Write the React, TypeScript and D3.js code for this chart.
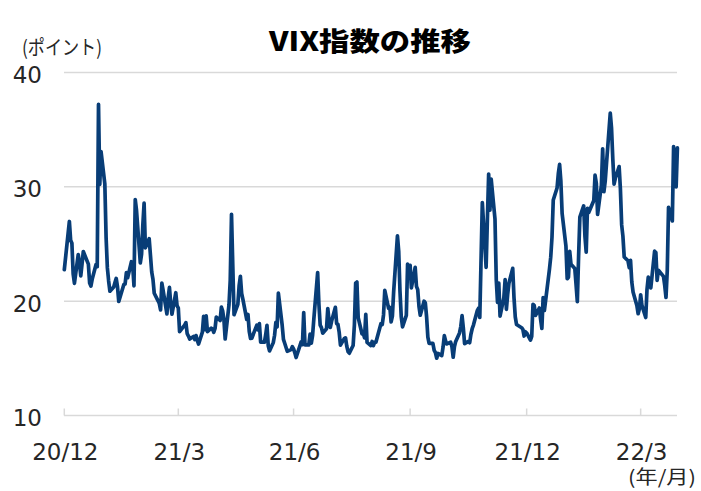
import React from "react";
import * as d3 from "d3";

const title = "VIX指数の推移";
const yUnit = "(ポイント)";
const xUnit = "(年/月)";

const months = [
  "2020-12", "2021-01", "2021-02", "2021-03", "2021-04", "2021-05", "2021-06", "2021-07",
  "2021-08", "2021-09", "2021-10", "2021-11", "2021-12", "2022-01", "2022-02", "2022-03", "2022-04",
];

const tradeDays: number[][] = [
  [31],
  [4, 5, 6, 7, 8, 11, 12, 13, 14, 15, 19, 20, 21, 22, 25, 26, 27, 28, 29],
  [1, 2, 3, 4, 5, 8, 9, 10, 11, 12, 16, 17, 18, 19, 22, 23, 24, 25, 26],
  [1, 2, 3, 4, 5, 8, 9, 10, 11, 12, 15, 16, 17, 18, 19, 22, 23, 24, 25, 26, 29, 30, 31],
  [1, 5, 6, 7, 8, 9, 12, 13, 14, 15, 16, 19, 20, 21, 22, 23, 26, 27, 28, 29, 30],
  [3, 4, 5, 6, 7, 10, 11, 12, 13, 14, 17, 18, 19, 20, 21, 24, 25, 26, 27, 28],
  [1, 2, 3, 4, 7, 8, 9, 10, 11, 14, 15, 16, 17, 18, 21, 22, 23, 24, 25, 28, 29, 30],
  [1, 2, 6, 7, 8, 9, 12, 13, 14, 15, 16, 19, 20, 21, 22, 23, 26, 27, 28, 29, 30],
  [2, 3, 4, 5, 6, 9, 10, 11, 12, 13, 16, 17, 18, 19, 20, 23, 24, 25, 26, 27, 30, 31],
  [1, 2, 3, 7, 8, 9, 10, 13, 14, 15, 16, 17, 20, 21, 22, 23, 24, 27, 28, 29, 30],
  [1, 4, 5, 6, 7, 8, 11, 12, 13, 14, 15, 18, 19, 20, 21, 22, 25, 26, 27, 28, 29],
  [1, 2, 3, 4, 5, 8, 9, 10, 11, 12, 15, 16, 17, 18, 19, 22, 23, 24, 26, 29, 30],
  [1, 2, 3, 6, 7, 8, 9, 10, 13, 14, 15, 16, 17, 20, 21, 22, 23, 27, 28, 29, 30, 31],
  [3, 4, 5, 6, 7, 10, 11, 12, 13, 14, 18, 19, 20, 21, 24, 25, 26, 27, 28, 31],
  [1, 2, 3, 4, 7, 8, 9, 10, 11, 14, 15, 16, 17, 18, 22, 23, 24, 25, 28],
  [1, 2, 3, 4, 7, 8, 9, 10, 11, 14, 15, 16, 17, 18, 21, 22, 23, 24, 25, 28, 29, 30, 31],
  [1, 4, 5, 6, 7, 8, 11, 12, 13, 14, 18, 19, 20, 21, 22, 25, 26, 27, 28, 29],
];

const vixValues: number[][] = [
  [22.75],
  [26.97, 25.34, 25.07, 22.37, 21.56, 24.08, 23.33, 22.21, 23.25, 24.34, 23.24, 21.58, 21.32, 21.91, 23.19, 23.02, 37.21, 30.21, 33.09],
  [30.24, 25.56, 22.91, 21.77, 20.87, 21.24, 21.63, 21.99, 21.25, 19.97, 21.46, 21.5, 22.49, 22.05, 23.45, 23.11, 21.34, 28.89, 27.95],
  [23.35, 24.1, 26.67, 28.57, 24.66, 25.47, 24.03, 22.56, 21.91, 20.69, 20.03, 19.79, 19.23, 21.58, 20.95, 18.88, 20.3, 21.2, 19.81, 18.86, 20.74, 19.61, 19.4],
  [17.33, 17.91, 18.12, 17.16, 16.95, 16.69, 16.91, 16.65, 16.99, 16.57, 16.25, 17.29, 18.68, 17.5, 18.71, 17.33, 17.64, 17.56, 17.28, 17.61, 18.61],
  [18.31, 19.48, 19.15, 18.39, 16.69, 19.66, 21.84, 27.59, 23.13, 18.81, 19.72, 21.34, 22.18, 20.67, 20.15, 18.4, 18.84, 17.36, 16.74, 16.76],
  [17.9, 17.48, 18.04, 16.42, 16.42, 17.07, 17.89, 16.1, 15.65, 16.39, 17.02, 18.15, 17.75, 20.7, 17.89, 16.66, 16.32, 15.97, 15.62, 15.76, 16.02, 15.83],
  [15.48, 15.07, 16.44, 16.2, 19.0, 16.18, 16.17, 17.12, 16.33, 17.01, 18.45, 22.5, 19.73, 17.91, 17.69, 17.2, 17.58, 19.36, 18.31, 17.7, 18.24],
  [19.46, 18.04, 17.97, 17.28, 16.15, 16.72, 16.79, 16.06, 15.59, 15.45, 16.12, 17.91, 21.57, 21.67, 18.56, 17.15, 17.22, 16.79, 18.84, 16.39, 16.11, 16.48],
  [16.11, 16.41, 16.41, 18.04, 17.96, 18.8, 20.95, 19.37, 19.46, 18.18, 18.69, 20.81, 25.71, 24.36, 20.87, 18.63, 17.75, 18.76, 23.25, 22.56, 23.14],
  [21.15, 22.96, 21.3, 21.0, 19.54, 18.77, 20.0, 19.85, 18.64, 16.86, 16.3, 16.3, 15.7, 15.49, 15.01, 15.43, 15.24, 15.98, 16.98, 16.53, 16.26],
  [16.41, 16.03, 15.1, 16.03, 16.48, 17.22, 17.78, 18.73, 17.66, 16.29, 16.49, 16.37, 17.11, 17.59, 17.91, 19.17, 19.38, 18.58, 28.62, 22.96, 27.19],
  [31.12, 27.95, 30.67, 27.18, 21.89, 19.9, 21.58, 18.69, 20.31, 21.89, 19.29, 20.57, 21.57, 22.87, 20.31, 18.63, 17.96, 17.68, 17.54, 16.95, 17.33, 17.22],
  [16.6, 16.91, 19.73, 19.61, 18.76, 19.4, 18.41, 17.62, 20.31, 19.19, 22.79, 23.85, 25.59, 28.85, 29.9, 31.16, 31.96, 30.49, 27.66, 24.83],
  [21.96, 22.09, 24.35, 23.22, 22.86, 21.44, 19.96, 23.91, 27.36, 28.33, 25.7, 24.29, 28.11, 27.75, 28.81, 31.02, 30.32, 27.59, 30.15],
  [33.32, 29.57, 30.48, 31.98, 36.45, 35.13, 32.45, 30.23, 30.75, 31.77, 29.83, 26.67, 25.67, 23.87, 23.53, 22.94, 23.57, 21.67, 20.81, 19.63, 18.9, 19.33, 20.56],
  [19.63, 18.57, 21.03, 22.1, 21.55, 21.16, 24.37, 24.26, 21.82, 22.7, 22.17, 21.37, 20.32, 22.68, 28.21, 27.02, 33.52, 31.6, 29.99, 33.4],
];

const yTicks = [10, 20, 30, 40];
const xTickDates = ["2020-12-31", "2021-03-31", "2021-06-30", "2021-09-30", "2021-12-31", "2022-03-31"];
const xTickLabels = ["20/12", "21/3", "21/6", "21/9", "21/12", "22/3"];

const parse = d3.timeParse("%Y-%m-%d");

type Pt = { date: Date; value: number };
const data: Pt[] = [];
months.forEach((m, i) => {
  const ds = tradeDays[i];
  const vs = vixValues[i];
  const n = Math.min(ds.length, vs.length);
  for (let k = 0; k < n; k++) {
    const dd = String(ds[k]).padStart(2, "0");
    data.push({ date: parse(`${m}-${dd}`) as Date, value: vs[k] });
  }
});

const W = 701;
const H = 491;
const left = 64.3;
const right = 677.4;
const top = 72.5;
const bottom = 415.5;

export default function App() {
  const x = d3
    .scaleTime()
    .domain(d3.extent(data, (d) => d.date) as [Date, Date])
    .range([left, right]);
  const y = d3.scaleLinear().domain([10, 40]).range([bottom, top]);
  const line = d3
    .line<Pt>()
    .x((d) => x(d.date))
    .y((d) => y(d.value));

  const gridColor = "#d9d9d9";
  const textColor = "#262626";
  const numFont = "'DejaVu Sans', Verdana, sans-serif";
  const jpFont = "'Noto Sans CJK JP', 'Noto Sans', sans-serif";

  return (
    <svg
      width={W}
      height={H}
      viewBox={`0 0 ${W} ${H}`}
      style={{ position: "absolute", left: 0, top: 0, background: "#fff" }}
    >
      <rect x={0} y={0} width={W} height={H} fill="#fff" />
      <text
        x={269}
        y={51}
        fontFamily={jpFont}
        fontWeight="900"
        fontSize={26}
        fill="#000"
        textLength={202}
        lengthAdjust="spacingAndGlyphs"
      >
        {title}
      </text>
      <text
        x={22}
        y={55}
        fontFamily={jpFont}
        fontSize={20}
        fill={textColor}
        textLength={80}
        lengthAdjust="spacingAndGlyphs"
      >
        {yUnit}
      </text>
      {yTicks
        .filter((t) => t !== 10)
        .map((t) => (
          <line key={t} x1={64} x2={677} y1={y(t)} y2={y(t)} stroke={gridColor} strokeWidth={1.5} />
        ))}
      {yTicks.map((t) => (
        <text
          key={"yl" + t}
          x={42}
          y={y(t) + 10.5}
          textAnchor="end"
          fontFamily={numFont}
          fontSize={23}
          fill={textColor}
        >
          {t}
        </text>
      ))}
      <line x1={64} x2={677} y1={bottom} y2={bottom} stroke={gridColor} strokeWidth={1.5} />
      {xTickDates.map((s, i) => {
        const xx = x(parse(s) as Date);
        return (
          <g key={s}>
            <line x1={xx} x2={xx} y1={bottom} y2={bottom - 7} stroke={gridColor} strokeWidth={1.5} />
            <text
              x={xx + 1}
              y={460}
              textAnchor="middle"
              fontFamily={numFont}
              fontSize={23}
              fill={textColor}
            >
              {xTickLabels[i]}
            </text>
          </g>
        );
      })}
      <text
        x={628}
        y={484}
        fontFamily={jpFont}
        fontSize={19}
        fill={textColor}
        textLength={68}
        lengthAdjust="spacingAndGlyphs"
      >
        {xUnit}
      </text>
      <path
        d={line(data) || ""}
        fill="none"
        stroke="#083d77"
        strokeWidth={3.7}
        strokeLinejoin="round"
        strokeLinecap="round"
      />
    </svg>
  );
}
